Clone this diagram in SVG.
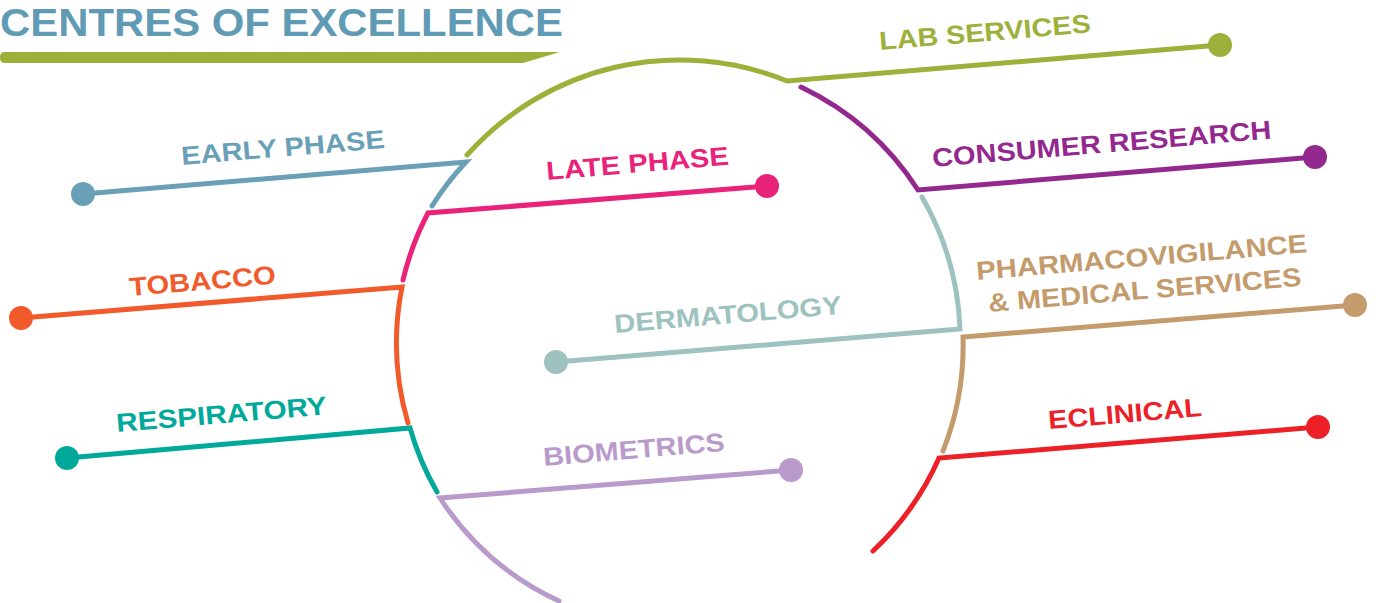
<svg xmlns="http://www.w3.org/2000/svg" width="1378" height="603" viewBox="0 0 1378 603">
<style>
  .c { fill: none; stroke-width: 5; stroke-linejoin: miter; stroke-linecap: round; }
  .lbl { font-family: "Liberation Sans", Arial, sans-serif; font-weight: 700; font-size: 26px; }
  .title { font-family: "Liberation Sans", Arial, sans-serif; font-weight: 700; font-size: 38px; fill: #5F9BB5; }
</style>
<rect width="1378" height="603" fill="#ffffff"/>
<g id="title">
  <text class="title" x="0" y="36" textLength="563" lengthAdjust="spacingAndGlyphs">CENTRES OF EXCELLENCE</text>
  <path d="M5 52 H560 L523 63 H5 Q0 63 0 58 V57 Q0 52 5 52 Z" fill="#9CB03A"/>
</g>
<g id="connectors">
  <path class="c" stroke="#9CB03A" d="M467 155 A285 285 0 0 1 787 81 L1220 45"/>
  <path class="c" stroke="#93298E" d="M801 87 A285 285 0 0 1 918 190 L1315 157"/>
  <path class="c" stroke="#9DC2BF" d="M922 197 A285 285 0 0 1 960 329 L556 362"/>
  <path class="c" stroke="#C49B6C" d="M1355 305 L963 337 A285 285 0 0 1 943 451"/>
  <path class="c" stroke="#EC2127" d="M1318 427 L939 458 A285 285 0 0 1 873 551"/>
  <path class="c" stroke="#B99BCB" d="M791 470 L440 498 A285 285 0 0 0 559 601"/>
  <path class="c" stroke="#00A99A" d="M67 458 L410 428 A285 285 0 0 0 437 492"/>
  <path class="c" stroke="#F15A2B" d="M21 318 L402 287 A285 285 0 0 0 408 423"/>
  <path class="c" stroke="#E9237A" d="M767 186 L428 213 A285 285 0 0 0 403 280"/>
  <path class="c" stroke="#6A9FB8" d="M83 194 L466 162 A285 285 0 0 0 432 206"/>
</g>
<g id="lab-services">
  <circle cx="1220" cy="45" r="12" fill="#9CB03A"/>
  <text class="lbl" fill="#9CB03A" x="880" y="50" transform="rotate(-4.8 880 50)" textLength="212" lengthAdjust="spacingAndGlyphs">LAB SERVICES</text>
</g>
<g id="consumer-research">
  <circle cx="1315" cy="157" r="12" fill="#93298E"/>
  <text class="lbl" fill="#93298E" x="933" y="167" transform="rotate(-4.8 933 167)" textLength="340" lengthAdjust="spacingAndGlyphs">CONSUMER RESEARCH</text>
</g>
<g id="dermatology">
  <circle cx="556" cy="362" r="12" fill="#9DC2BF"/>
  <text class="lbl" fill="#9DC2BF" x="615" y="333" transform="rotate(-4.8 615 333)" textLength="228" lengthAdjust="spacingAndGlyphs">DERMATOLOGY</text>
</g>
<g id="pharmacovigilance">
  <circle cx="1355" cy="305" r="12" fill="#C49B6C"/>
  <text class="lbl" fill="#C49B6C" x="977" y="280" transform="rotate(-4.8 977 280)" textLength="332" lengthAdjust="spacingAndGlyphs">PHARMACOVIGILANCE</text>
  <text class="lbl" fill="#C49B6C" x="989" y="312" transform="rotate(-4.8 989 312)" textLength="314" lengthAdjust="spacingAndGlyphs">&amp; MEDICAL SERVICES</text>
</g>
<g id="eclinical">
  <circle cx="1318" cy="427" r="12" fill="#EC2127"/>
  <text class="lbl" fill="#EC2127" x="1049" y="429" transform="rotate(-4.8 1049 429)" textLength="154" lengthAdjust="spacingAndGlyphs">ECLINICAL</text>
</g>
<g id="biometrics">
  <circle cx="791" cy="470" r="12" fill="#B99BCB"/>
  <text class="lbl" fill="#B99BCB" x="544" y="466" transform="rotate(-4.8 544 466)" textLength="182" lengthAdjust="spacingAndGlyphs">BIOMETRICS</text>
</g>
<g id="respiratory">
  <circle cx="67" cy="458" r="12" fill="#00A99A"/>
  <text class="lbl" fill="#00A99A" x="117" y="432" transform="rotate(-4.8 117 432)" textLength="211" lengthAdjust="spacingAndGlyphs">RESPIRATORY</text>
</g>
<g id="tobacco">
  <circle cx="21" cy="318" r="12" fill="#F15A2B"/>
  <text class="lbl" fill="#F15A2B" x="130" y="296" transform="rotate(-4.8 130 296)" textLength="147" lengthAdjust="spacingAndGlyphs">TOBACCO</text>
</g>
<g id="late-phase">
  <circle cx="767" cy="186" r="12" fill="#E9237A"/>
  <text class="lbl" fill="#E9237A" x="547" y="180" transform="rotate(-4.8 547 180)" textLength="183" lengthAdjust="spacingAndGlyphs">LATE PHASE</text>
</g>
<g id="early-phase">
  <circle cx="83" cy="194" r="12" fill="#6A9FB8"/>
  <text class="lbl" fill="#6A9FB8" x="182" y="165" transform="rotate(-4.8 182 165)" textLength="204" lengthAdjust="spacingAndGlyphs">EARLY PHASE</text>
</g>
</svg>
